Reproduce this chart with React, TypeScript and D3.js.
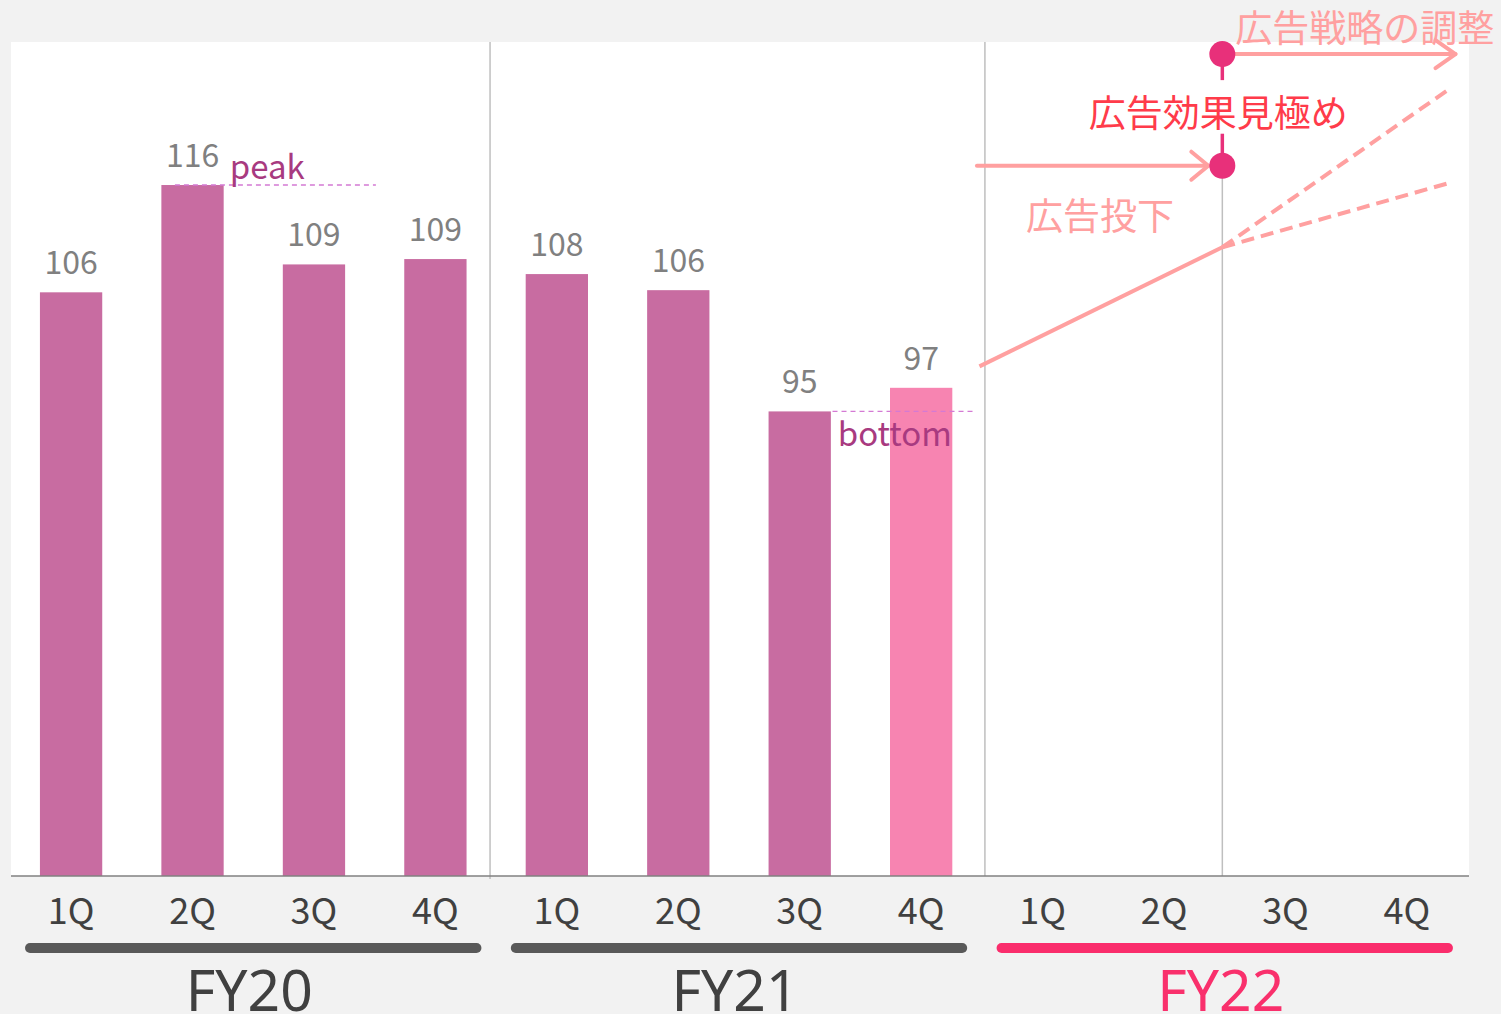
import React from "react";
import * as d3 from "d3";

const fiscalYears = ["FY20", "FY21", "FY22"];
const quarters = ["1Q", "2Q", "3Q", "4Q"];
const fy20Values = [106.0, 116.0, 108.6, 109.1];
const fy21Values = [107.7, 106.2, 94.9, 97.1];
const highlightKey = "FY21-4Q";
const peakKey = "FY20-2Q";
const bottomKey = "FY21-3Q";
const peakLabel = "peak";
const bottomLabel = "bottom";

// projection lines (slot index, value)
const trendSlots = [7.48, 9.48];
const trendValues = [99.1, 110.2];
const upsideSlots = [9.48, 11.33];
const upsideValues = [110.2, 124.8];
const modestSlots = [9.48, 11.35];
const modestValues = [110.2, 116.2];

// annotation levels (value units)
const adjustLevel = 128.2;
const investLevel = 117.8;
const investText = "広告投下";
const evaluateText = "広告効果見極め";
const adjustText = "広告戦略の調整";

const FONT = '"Noto Sans CJK JP", "Noto Sans", sans-serif';
const LATIN = '"Noto Sans", "Noto Sans CJK JP", sans-serif';
const W = 1501;
const H = 1014;

const keys: string[] = [];
fiscalYears.forEach((fy) => quarters.forEach((q) => keys.push(`${fy}-${q}`)));
const valueByKey: Record<string, number> = {};
fy20Values.forEach((v, i) => (valueByKey[`FY20-${quarters[i]}`] = v));
fy21Values.forEach((v, i) => (valueByKey[`FY21-${quarters[i]}`] = v));

export default function App() {
  const plotLeft = 11, plotRight = 1469, plotTop = 42, plotBottom = 876;
  const x = d3.scaleBand<string>().domain(keys).range([10, 1468]).paddingInner(0.487).paddingOuter(0.2465);
  const bw = x.bandwidth();
  const step = x.step();
  const cx = (k: string) => (x(k) as number) + bw / 2;
  const xs = d3.scaleLinear().domain([0, keys.length - 1]).range([cx(keys[0]), cx(keys[keys.length - 1])]);
  const y = d3.scaleLinear().domain([51.6, 129.33]).range([plotBottom, plotTop]);
  const fmt = d3.format(".0f");

  const barKeys = keys.filter((k) => valueByKey[k] !== undefined);
  const line = d3.line<[number, number]>().x((d) => xs(d[0])).y((d) => y(d[1]));
  const zip = (a: number[], b: number[]) => a.map((v, i) => [v, b[i]] as [number, number]);

  const pink = "#ffa0a0";
  const dotColor = "#e8307a";
  const dotX = xs(9.48);
  const topY = y(adjustLevel);
  const midY = y(investLevel);
  const sep1 = xs(3.45);
  const sep2 = xs(7.525);

  const peakY = y(valueByKey[peakKey]);
  const bottomY = y(valueByKey[bottomKey]);

  return (
    <svg width={W} height={H} style={{ position: "absolute", left: 0, top: 0, fontFamily: FONT }}>
      <rect x={0} y={0} width={W} height={H} fill="#f2f2f2" />
      <rect x={plotLeft} y={plotTop} width={plotRight - plotLeft} height={plotBottom - plotTop} fill="#ffffff" />

      {/* separators */}
      <line x1={sep1} x2={sep1} y1={plotTop} y2={plotBottom + 3} stroke="#bfbfbf" strokeWidth={1.5} />
      <line x1={sep2} x2={sep2} y1={plotTop} y2={plotBottom} stroke="#bfbfbf" strokeWidth={1.5} />
      <line x1={dotX} x2={dotX} y1={midY} y2={plotBottom} stroke="#bfbfbf" strokeWidth={1.5} />

      {/* bars */}
      {barKeys.map((k) => (
        <rect key={k} x={x(k)} y={y(valueByKey[k])} width={bw} height={plotBottom - y(valueByKey[k])}
          fill={k === highlightKey ? "#f784b1" : "#c86ca1"} />
      ))}
      {barKeys.map((k) => (
        <text key={"l" + k} x={cx(k)} y={y(valueByKey[k]) - 18} textAnchor="middle" fontSize={32} fill="#808080">
          {fmt(valueByKey[k])}
        </text>
      ))}

      {/* peak / bottom */}
      <line x1={xs(0.855)} x2={xs(2.51)} y1={peakY} y2={peakY} stroke="#d47ad4" strokeWidth={1.3} strokeDasharray="5 4" />
      <text x={(x(peakKey) as number) + bw + 6} y={peakY - 6} fontSize={33} fill="#a83a80">{peakLabel}</text>
      <line x1={xs(6.27)} x2={xs(7.43)} y1={bottomY} y2={bottomY} stroke="#d47ad4" strokeWidth={1.3} strokeDasharray="5 4" />
      <text x={(x(bottomKey) as number) + bw + 7} y={bottomY + 35} fontSize={33} fill="#a83a80">{bottomLabel}</text>

      {/* axis */}
      <line x1={plotLeft} x2={plotRight} y1={plotBottom} y2={plotBottom} stroke="#808080" strokeWidth={1.5} />
      {keys.map((k, i) => (
        <text key={"q" + k} x={cx(k)} y={924} textAnchor="middle" fontSize={36} fill="#404040">
          {quarters[i % 4]}
        </text>
      ))}
      {fiscalYears.map((fy, gi) => {
        const first = cx(`${fy}-${quarters[0]}`);
        const last = cx(`${fy}-${quarters[3]}`);
        const color = gi === 2 ? "#fa2d6c" : "#595959";
        const textColor = gi === 2 ? "#f9306c" : "#404040";
        return (
          <g key={fy}>
            <line x1={first - 0.338 * step} x2={last + 0.338 * step} y1={948} y2={948} stroke={color}
              strokeWidth={10} strokeLinecap="round" />
            <text x={(first + last) / 2 - 4} y={1011} textAnchor="middle" fontSize={57} fontFamily={LATIN}
              fill={textColor}>{fy}</text>
          </g>
        );
      })}

      {/* projection */}
      <path d={line(zip(trendSlots, trendValues)) || ""} fill="none" stroke={pink} strokeWidth={4} />
      <path d={line(zip(upsideSlots, upsideValues)) || ""} fill="none" stroke={pink} strokeWidth={4} strokeDasharray="13 7" />
      <path d={line(zip(modestSlots, modestValues)) || ""} fill="none" stroke={pink} strokeWidth={4} strokeDasharray="13 7" />

      {/* invest arrow */}
      <line x1={sep2 - 8} x2={dotX - 14} y1={midY} y2={midY} stroke={pink} strokeWidth={4} strokeLinecap="round" />
      <polyline points={`${dotX - 31},${midY - 14} ${dotX - 14},${midY} ${dotX - 31},${midY + 14}`} fill="none"
        stroke={pink} strokeWidth={4} strokeLinecap="round" strokeLinejoin="round" />
      <text x={sep2 + 41} y={midY + 64} fontSize={37} fill={pink}>{investText}</text>

      {/* adjust arrow */}
      <line x1={dotX} x2={xs(11.4)} y1={topY} y2={topY} stroke={pink} strokeWidth={4} strokeLinecap="round" />
      <polyline points={`${xs(11.4) - 20},${topY - 14} ${xs(11.4)},${topY} ${xs(11.4) - 20},${topY + 14}`} fill="none"
        stroke={pink} strokeWidth={4} strokeLinecap="round" strokeLinejoin="round" />
      <text x={dotX + 13} y={topY - 12} fontSize={37} fill={pink}>{adjustText}</text>

      {/* evaluate */}
      <line x1={dotX} x2={dotX} y1={topY} y2={topY + 26} stroke={dotColor} strokeWidth={3.5} />
      <line x1={dotX} x2={dotX} y1={midY - 32} y2={midY} stroke={dotColor} strokeWidth={3.5} />
      <circle cx={dotX} cy={topY} r={13} fill={dotColor} />
      <circle cx={dotX} cy={midY} r={13} fill={dotColor} />
      <text x={dotX - 4} y={(topY + midY) / 2 + 17} textAnchor="middle" fontSize={37} fill="#ff3b4a">{evaluateText}</text>
    </svg>
  );
}
